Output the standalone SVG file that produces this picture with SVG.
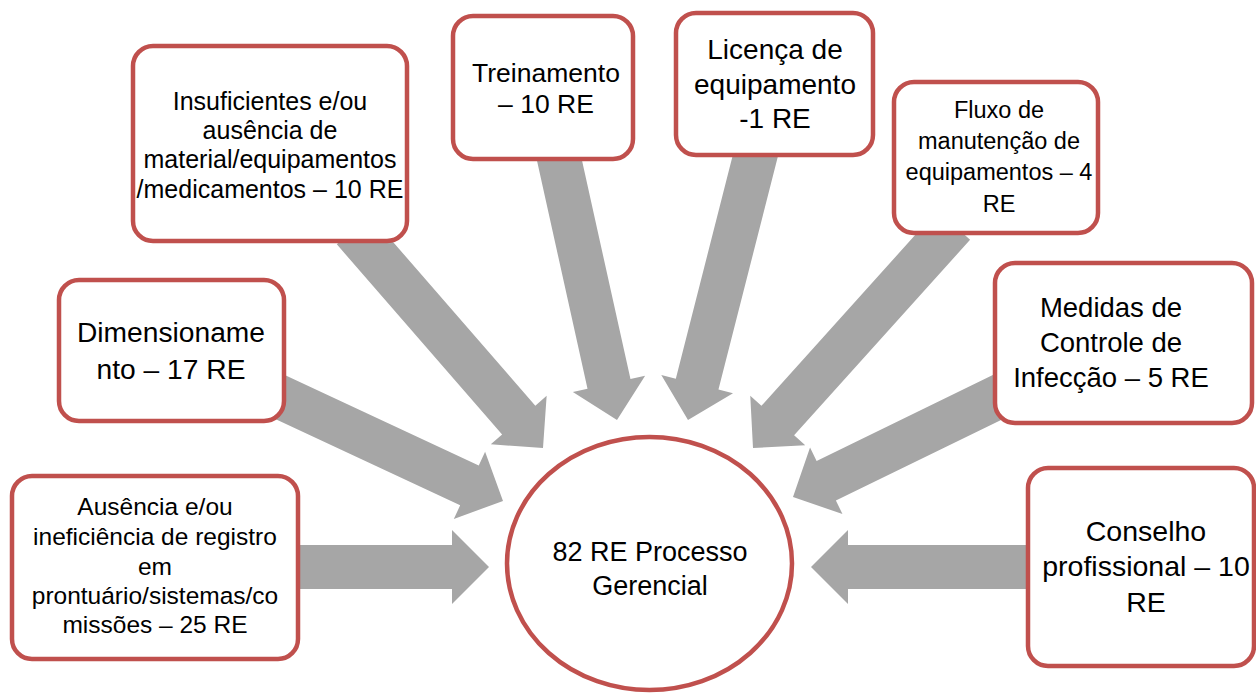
<svg xmlns="http://www.w3.org/2000/svg" width="1256" height="694" viewBox="0 0 1256 694">
<style>
.box{fill:#fff;stroke:#C0504D;stroke-width:4.5}
.arr{fill:#A6A6A6}
text{font-family:"Liberation Sans",Arial,sans-serif;fill:#000;text-anchor:middle}
</style>
<rect width="1256" height="694" fill="#fff"/>
<g id="connectors">
<path class="arr" transform="translate(489,567)" d="M-199,-22 L-37,-22 L-37,-37 L0,0 L-37,37 L-37,22 L-199,22 Z"/>
<path class="arr" transform="translate(811,567) rotate(180)" d="M-224,-22 L-37,-22 L-37,-37 L0,0 L-37,37 L-37,22 L-224,22 Z"/>
<path class="arr" transform="translate(503,501) rotate(25)" d="M-257,-22 L-37,-22 L-37,-37 L0,0 L-37,37 L-37,22 L-257,22 Z"/>
<path class="arr" transform="translate(543,448) rotate(49)" d="M-289,-22 L-37,-22 L-37,-37 L0,0 L-37,37 L-37,22 L-289,22 Z"/>
<path class="arr" transform="translate(617,420) rotate(77.5)" d="M-277,-22 L-37,-22 L-37,-37 L0,0 L-37,37 L-37,22 L-277,22 Z"/>
<path class="arr" transform="translate(688,420) rotate(104.3)" d="M-284,-22 L-37,-22 L-37,-37 L0,0 L-37,37 L-37,22 L-284,22 Z"/>
<path class="arr" transform="translate(753,448) rotate(132)" d="M-300,-22 L-37,-22 L-37,-37 L0,0 L-37,37 L-37,22 L-300,22 Z"/>
<path class="arr" transform="translate(793,497) rotate(154)" d="M-241,-22 L-37,-22 L-37,-37 L0,0 L-37,37 L-37,22 L-241,22 Z"/>
</g>
<g id="insuficientes">
<rect class="box" x="133" y="46" width="274" height="195" rx="20"/>
<text font-size="25"><tspan x="270" y="110">Insuficientes e/ou</tspan><tspan x="270" y="139">ausência de</tspan><tspan x="270" y="168">material/equipamentos</tspan><tspan x="270" y="198">/medicamentos – 10 RE</tspan></text>
</g>
<g id="treinamento">
<rect class="box" x="453" y="16" width="180" height="143" rx="20"/>
<text font-size="26.5"><tspan x="546" y="82">Treinamento</tspan><tspan x="546" y="113">– 10 RE</tspan></text>
</g>
<g id="licenca">
<rect class="box" x="676" y="13" width="197" height="142" rx="20"/>
<text font-size="28"><tspan x="775" y="59">Licença de</tspan><tspan x="775" y="94">equipamento</tspan><tspan x="775" y="128">-1 RE</tspan></text>
</g>
<g id="fluxo">
<rect class="box" x="894" y="82" width="204" height="151" rx="20"/>
<text font-size="23.5"><tspan x="999" y="118">Fluxo de</tspan><tspan x="999" y="149">manutenção de</tspan><tspan x="999" y="180">equipamentos – 4</tspan><tspan x="999" y="212">RE</tspan></text>
</g>
<g id="medidas">
<rect class="box" x="995" y="263" width="257" height="160" rx="20"/>
<text font-size="27.5"><tspan x="1111" y="317">Medidas de</tspan><tspan x="1111" y="352">Controle de</tspan><tspan x="1111" y="387">Infecção – 5 RE</tspan></text>
</g>
<g id="conselho">
<rect class="box" x="1028" y="468" width="226" height="198" rx="20"/>
<text font-size="28.5"><tspan x="1146" y="541">Conselho</tspan><tspan x="1146" y="576">profissional – 10</tspan><tspan x="1146" y="612">RE</tspan></text>
</g>
<g id="dimensionamento">
<rect class="box" x="59" y="280" width="225" height="141" rx="20"/>
<text font-size="28.2"><tspan x="171" y="342">Dimensioname</tspan><tspan x="171" y="379">nto – 17 RE</tspan></text>
</g>
<g id="ausencia">
<rect class="box" x="12" y="476" width="286" height="183" rx="20"/>
<text font-size="24.5"><tspan x="155" y="515">Ausência e/ou</tspan><tspan x="155" y="545">ineficiência de registro</tspan><tspan x="155" y="575">em</tspan><tspan x="155" y="604">prontuário/sistemas/co</tspan><tspan x="155" y="633">missões – 25 RE</tspan></text>
</g>
<g id="processo">
<ellipse class="box" cx="649.5" cy="563.5" rx="142.5" ry="126.5"/>
<text font-size="27"><tspan x="650" y="561">82 RE Processo</tspan><tspan x="650" y="595">Gerencial</tspan></text>
</g>
</svg>
